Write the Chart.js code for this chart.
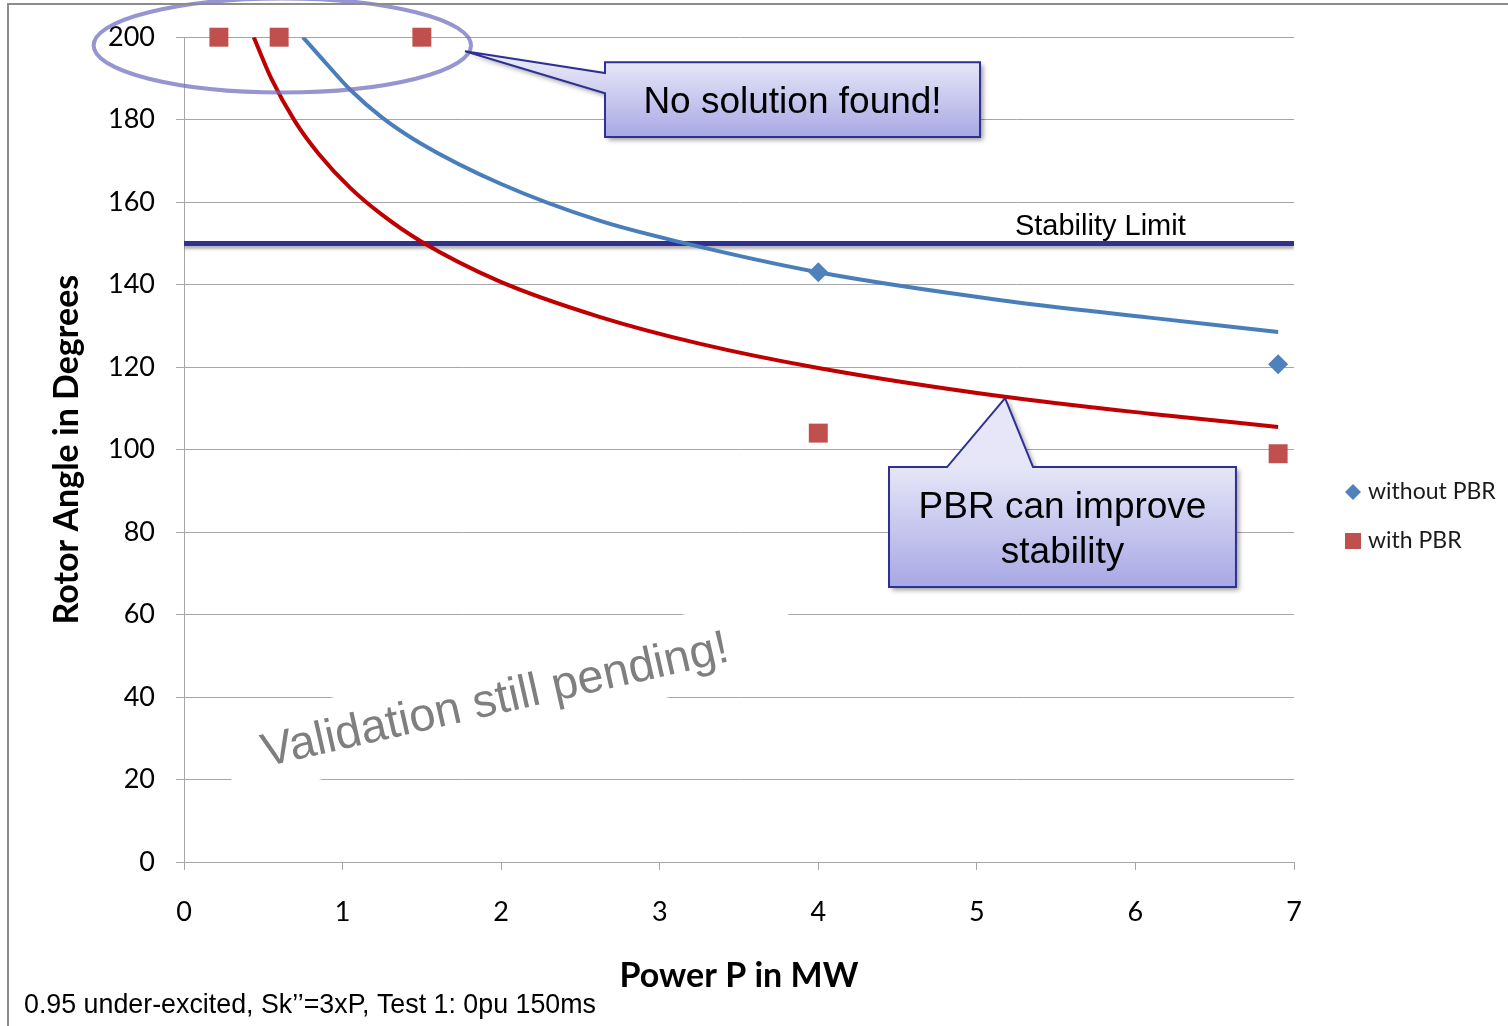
<!DOCTYPE html>
<html>
<head>
<meta charset="utf-8">
<script src="https://cdn.jsdelivr.net/npm/chart.js@4.4.1/dist/chart.umd.min.js"></script>
<style>
  html, body { margin: 0; padding: 0; background: #fff; }
  canvas { display: block; }
</style>
</head>
<body>
<canvas id="myChart" width="1508" height="1026"></canvas>
<script>
// measured points
const withoutPbrX = [4, 6.9];
const withoutPbrY = [143, 120.7];
const withPbrX = [0.22, 0.6, 1.5, 4, 6.9];
const withPbrY = [200, 200, 200, 104, 99];

// trend curves
const blueCurveX = [0.75, 0.9, 1.05, 1.25, 1.49, 2.0, 2.62, 3.13, 4.0, 5.14, 6.09, 6.9];
const blueCurveY = [200, 193.5, 187.2, 180.5, 174.3, 164.4, 155.5, 150.3, 143, 136.3, 132.0, 128.5];
const redCurveX = [0.44, 0.55, 0.70, 0.85, 1.05, 1.25, 1.49, 1.99, 2.62, 3.25, 4.0, 5.14, 6.09, 6.9];
const redCurveY = [200, 190, 179.6, 171.7, 163.4, 156.9, 150.6, 140.8, 132.2, 125.7, 119.8, 113.0, 108.7, 105.5];

const limitX = [0, 7];
const limitY = [150, 150];

const xTicks = [0, 1, 2, 3, 4, 5, 6, 7];
const yTicks = [0, 20, 40, 60, 80, 100, 120, 140, 160, 180, 200];

const toPts = (xs, ys) => xs.map((x, i) => ({x: x, y: ys[i]}));

const GRID = '#A6A6A6';
const SANS = '"Liberation Sans", Arial, sans-serif';
const CAL = 'Lato, "Open Sans", sans-serif';

// helper for the lavender callouts
function callout(ctx, poly, top, bottom) {
  ctx.save();
  const g = ctx.createLinearGradient(0, top, 0, bottom);
  g.addColorStop(0, '#E6E6F8');
  g.addColorStop(1, '#A8A8E5');
  ctx.beginPath();
  poly.forEach((p, i) => i ? ctx.lineTo(p[0], p[1]) : ctx.moveTo(p[0], p[1]));
  ctx.closePath();
  ctx.shadowColor = 'rgba(0,0,0,0.4)';
  ctx.shadowBlur = 5;
  ctx.shadowOffsetX = 3;
  ctx.shadowOffsetY = 3;
  ctx.fillStyle = g;
  ctx.fill();
  ctx.shadowColor = 'transparent';
  ctx.strokeStyle = '#2E3192';
  ctx.lineWidth = 2;
  ctx.stroke();
  ctx.restore();
}

const notes = {
  id: 'notes',
  beforeDatasetsDraw(chart) {
    const ctx = chart.ctx;
    const xs = chart.scales.x, ys = chart.scales.y;
    // "Validation still pending!" on a white band that hides the grid
    ctx.save();
    ctx.translate(xs.getPixelForValue(1.964), ys.getPixelForValue(39));
    ctx.save();
    ctx.rotate(-13.3 * Math.PI / 180);
    ctx.fillStyle = '#fff';
    ctx.fillRect(-275, -41, 580, 77);
    ctx.restore();
    ctx.rotate(-12.8 * Math.PI / 180);
    ctx.font = '47px ' + SANS;
    ctx.fillStyle = '#7F7F7F';
    ctx.textAlign = 'center';
    ctx.textBaseline = 'middle';
    ctx.fillText('Validation still pending!', 0, 0);
    ctx.restore();
  },
  beforeDatasetDraw(chart, args) {
    if (args.index === 4) {
      chart.ctx.shadowColor = 'rgba(0,0,0,0.3)';
      chart.ctx.shadowBlur = 3;
      chart.ctx.shadowOffsetY = 3;
    }
  },
  afterDatasetDraw(chart, args) {
    if (args.index === 4) {
      chart.ctx.shadowColor = 'transparent';
      chart.ctx.shadowBlur = 0;
      chart.ctx.shadowOffsetY = 0;
    }
  },
  afterDatasetsDraw(chart) {
    const ctx = chart.ctx;
    const xs = chart.scales.x, ys = chart.scales.y;
    const X = v => xs.getPixelForValue(v), Y = v => ys.getPixelForValue(v);

    // stability limit label
    ctx.save();
    ctx.font = '29px ' + SANS;
    ctx.fillStyle = '#000';
    ctx.textBaseline = 'alphabetic';
    ctx.fillText('Stability Limit', X(5.24), Y(152.0));
    ctx.restore();

    // ellipse around the unsolved points
    ctx.save();
    ctx.beginPath();
    const cx = X(0.62), cy = Y(198);
    ctx.ellipse(cx, cy, X(0.62 + 1.19) - cx, Y(198 - 11.4) - cy, 0, 0, Math.PI * 2);
    ctx.strokeStyle = 'rgba(110,108,190,0.72)';
    ctx.lineWidth = 4;
    ctx.stroke();
    ctx.restore();

    // "No solution found!"
    let L = X(2.655), R = X(5.02), T = Y(193.9), B = Y(175.8);
    callout(ctx, [[L, T], [R, T], [R, B], [L, B], [L, Y(186.4)], [X(1.772), Y(196.6)], [L, Y(191.3)]], T, B);
    ctx.save();
    ctx.font = '37px ' + SANS;
    ctx.fillStyle = '#000';
    ctx.textAlign = 'center';
    ctx.fillText('No solution found!', (L + R) / 2, T + 51);
    ctx.restore();

    // "PBR can improve stability"
    L = X(4.446); R = X(6.634); T = Y(95.76); B = Y(66.67);
    callout(ctx, [[L, T], [X(4.812), T], [X(5.178), Y(112.5)], [X(5.354), T], [R, T], [R, B], [L, B]], T, B);
    ctx.save();
    ctx.font = '37px ' + SANS;
    ctx.fillStyle = '#000';
    ctx.textAlign = 'center';
    ctx.fillText('PBR can improve', (L + R) / 2, T + 51);
    ctx.fillText('stability', (L + R) / 2, T + 96);
    ctx.restore();
  },
  afterDraw(chart) {
    const ctx = chart.ctx;
    ctx.save();
    // legend
    ctx.fillStyle = '#4F81BD';
    ctx.beginPath();
    ctx.moveTo(1353, 484); ctx.lineTo(1361, 492); ctx.lineTo(1353, 500); ctx.lineTo(1345, 492);
    ctx.closePath();
    ctx.fill();
    ctx.fillStyle = '#C0504D';
    ctx.fillRect(1345, 533, 16, 16);
    ctx.font = '23px ' + CAL;
    ctx.fillStyle = '#1a1a1a';
    ctx.textBaseline = 'middle';
    ctx.fillText('without PBR', 1368, 492, 131);
    ctx.fillText('with PBR', 1368, 541, 95);
    // footer note
    ctx.font = '28px ' + SANS;
    ctx.fillStyle = '#000';
    ctx.textBaseline = 'alphabetic';
    ctx.fillText('0.95 under-excited, Sk\u2019\u2019=3xP, Test 1: 0pu 150ms', 24, 1013, 572);
    // outer frame
    ctx.strokeStyle = '#8C8C8C';
    ctx.lineWidth = 2;
    ctx.beginPath();
    ctx.moveTo(8, 1026); ctx.lineTo(8, 4); ctx.lineTo(1508, 4);
    ctx.stroke();
    ctx.restore();
  }
};

const ctx = document.getElementById('myChart');
new Chart(ctx, {
  type: 'scatter',
  data: {
    datasets: [
      {
        label: 'without PBR',
        data: toPts(withoutPbrX, withoutPbrY),
        pointStyle: 'rectRot',
        pointRadius: 10,
        backgroundColor: '#4F81BD',
        borderWidth: 0,
        clip: false
      },
      {
        label: 'with PBR',
        data: toPts(withPbrX, withPbrY),
        pointStyle: 'rect',
        pointRadius: 13.4,
        backgroundColor: '#C0504D',
        borderWidth: 0,
        clip: false
      },
      {
        label: 'without PBR trend',
        type: 'line',
        data: toPts(blueCurveX, blueCurveY),
        borderColor: '#4A7EBB',
        borderWidth: 4,
        pointRadius: 0,
        cubicInterpolationMode: 'monotone'
      },
      {
        label: 'with PBR trend',
        type: 'line',
        data: toPts(redCurveX, redCurveY),
        borderColor: '#C00000',
        borderWidth: 4,
        pointRadius: 0,
        cubicInterpolationMode: 'monotone'
      },
      {
        label: 'Stability Limit',
        type: 'line',
        data: toPts(limitX, limitY),
        borderColor: '#2E3192',
        borderWidth: 5,
        pointRadius: 0
      }
    ]
  },
  options: {
    responsive: false,
    animation: false,
    devicePixelRatio: 1,
    layout: { padding: { left: 10, top: 37, right: 214, bottom: 0 } },
    plugins: {
      legend: { display: false },
      tooltip: { enabled: false }
    },
    scales: {
      x: {
        type: 'linear',
        min: 0,
        max: 7,
        afterBuildTicks: s => { s.ticks = xTicks.map(v => ({value: v})); },
        afterFit: s => { s.height = 164; },
        ticks: { padding: 26, color: '#000', font: { family: CAL, size: 27 } },
        grid: { drawOnChartArea: false, drawTicks: true, tickLength: 8, color: GRID },
        border: { color: GRID, width: 1 },
        title: {
          display: true,
          text: 'Power P in MW',
          color: '#000',
          font: { family: CAL, size: 34, weight: 'bold' },
          padding: { top: 0, bottom: 30 }
        }
      },
      y: {
        min: 0,
        max: 200,
        afterBuildTicks: s => { s.ticks = yTicks.map(v => ({value: v})); },
        afterFit: s => { s.width = 174; },
        ticks: { padding: 21, color: '#000', font: { family: CAL, size: 27 } },
        grid: { tickLength: 8, color: GRID },
        border: { color: GRID, width: 1 },
        title: {
          display: true,
          text: 'Rotor Angle in Degrees',
          color: '#000',
          font: { family: CAL, size: 34, weight: 'bold' },
          padding: { top: 37, bottom: 0 }
        }
      }
    }
  },
  plugins: [notes]
});
</script>
</body>
</html>
